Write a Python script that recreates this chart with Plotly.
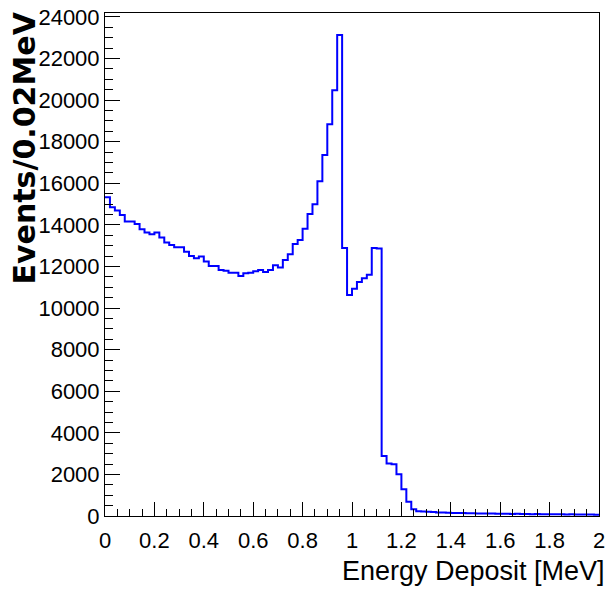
import numpy as np
import plotly.graph_objects as go

x_min = 0.0
x_max = 2.0
n_bins = 100

counts = [
    15330, 14850, 14690, 14480, 14160, 14160, 14045, 13790, 13630, 13550,
    13630, 13400, 13150, 13035, 12925, 12925, 12715, 12505, 12395, 12475,
    12235, 12025, 12025, 11830, 11800, 11705, 11705, 11545, 11670, 11705,
    11770, 11830, 11740, 11830, 12060, 11950, 12315, 12585, 13080, 13275,
    13820, 14525, 14990, 16100, 17365, 18840, 20475, 23135, 12890, 10630,
    10935, 11255, 11430, 11605, 12890, 12860, 2885, 2530, 2485, 2005,
    1285, 690, 320, 230, 215, 205, 190, 170, 165, 160,
    150, 145, 140, 130, 135, 125, 120, 115, 120, 110,
    105, 110, 100, 105, 95, 100, 90, 95, 85, 90,
    85, 80, 85, 75, 80, 75, 70, 75, 70, 65,
]

x_tick_vals = [0, 0.2, 0.4, 0.6, 0.8, 1, 1.2, 1.4, 1.6, 1.8, 2]
x_tick_text = ["0", "0.2", "0.4", "0.6", "0.8", "1", "1.2", "1.4", "1.6", "1.8", "2"]
y_tick_vals = [0, 2000, 4000, 6000, 8000, 10000, 12000, 14000, 16000, 18000, 20000, 22000, 24000]
y_tick_text = [str(v) for v in y_tick_vals]

x_title = "Energy Deposit [MeV]"
y_title = "Events/0.02MeV"

edges = np.linspace(x_min, x_max, n_bins + 1)
ys = list(counts) + [counts[-1]]

fig = go.Figure()
fig.add_trace(go.Scatter(
    x=edges, y=ys, mode="lines", line=dict(shape="hv", color="#0000ff", width=2),
    showlegend=False, hoverinfo="skip",
))

font_ticks = "Liberation Sans, Arial, sans-serif"
fig.update_layout(
    width=607, height=600,
    margin=dict(l=105, r=8, t=13, b=84),
    paper_bgcolor="white", plot_bgcolor="white",
    showlegend=False,
)
fig.update_xaxes(
    range=[x_min, x_max], showgrid=False, zeroline=False, automargin=False,
    showline=True, linecolor="black", linewidth=1, mirror=True,
    ticks="inside", ticklen=14, tickcolor="black", tickwidth=1,
    tickvals=x_tick_vals, ticktext=x_tick_text,
    tickfont=dict(family=font_ticks, size=22, color="black"),
    ticklabelstandoff=5, ticklabeloverflow="allow",
    minor=dict(ticks="inside", ticklen=7, tickcolor="black", dtick=0.05, tick0=0, showgrid=False),
)
fig.update_yaxes(
    range=[0, 24192], showgrid=False, zeroline=False, automargin=False,
    showline=True, linecolor="black", linewidth=1, mirror=True,
    ticks="inside", ticklen=15, tickcolor="black", tickwidth=1,
    tickvals=y_tick_vals, ticktext=y_tick_text,
    tickfont=dict(family=font_ticks, size=22, color="black"),
    ticklabeloverflow="allow",
    minor=dict(ticks="inside", ticklen=8, tickcolor="black", dtick=500, tick0=0, showgrid=False),
)
fig.add_annotation(
    text=x_title, xref="paper", yref="paper", x=1, y=0,
    xanchor="right", yanchor="top", xshift=8, yshift=-38, showarrow=False,
    font=dict(family=font_ticks, size=27, color="black"),
)
fig.add_annotation(
    text=y_title, xref="paper", yref="paper", x=0, y=1,
    xanchor="center", yanchor="top", xshift=-81, yshift=3, textangle=-90, showarrow=False,
    font=dict(family="DejaVu Sans, sans-serif", size=30, color="black", weight="bold"),
)

fig.write_html(
    "out.html",
    config={"displayModeBar": False},
    post_script="document.body.style.margin='0';document.body.style.overflow='hidden';",
)
